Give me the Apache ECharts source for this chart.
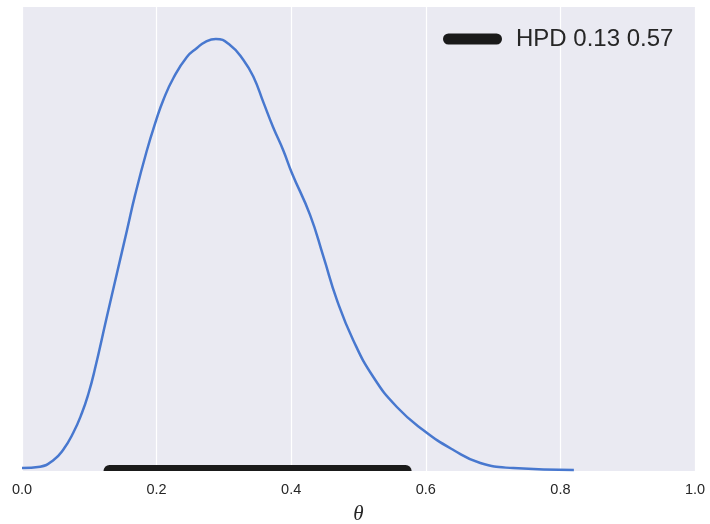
<!DOCTYPE html>
<html>
<head>
<meta charset="utf-8">
<script src="https://cdn.jsdelivr.net/npm/echarts@6/dist/echarts.min.js"></script>
<style>html,body{margin:0;padding:0;background:#fff;}#c{width:710px;height:524px;}</style>
</head>
<body>
<div id="c"></div>
<script>
// Posterior density of theta (KDE)
const thetaX = [0.000, 0.027, 0.047, 0.061, 0.076, 0.089, 0.099, 0.108, 0.126, 0.141, 0.156, 0.168, 0.185, 0.199, 0.210, 0.225, 0.245, 0.260, 0.272, 0.288, 0.309, 0.329, 0.344, 0.359, 0.373, 0.388, 0.401, 0.428, 0.448, 0.468, 0.492, 0.522, 0.557, 0.596, 0.641, 0.681, 0.730, 0.820];
const density = [0.021, 0.031, 0.079, 0.150, 0.271, 0.414, 0.557, 0.721, 1.100, 1.410, 1.720, 1.970, 2.280, 2.500, 2.650, 2.807, 2.957, 3.021, 3.064, 3.086, 3.043, 2.936, 2.814, 2.629, 2.457, 2.293, 2.129, 1.829, 1.529, 1.221, 0.936, 0.671, 0.457, 0.293, 0.150, 0.057, 0.021, 0.007];
// HPD interval
const hpdLow = 0.13;
const hpdHigh = 0.57;
const xTicks = [0.0, 0.2, 0.4, 0.6, 0.8, 1.0];

const hpdName = 'HPD ' + hpdLow.toFixed(2) + ' ' + hpdHigh.toFixed(2);
const curve = thetaX.map((x, i) => [x, density[i]]);

const chart = echarts.init(document.getElementById('c'), null, {renderer: 'canvas'});
chart.setOption({
  animation: false,
  backgroundColor: '#ffffff',
  grid: {left: 22, right: 15, top: 7, bottom: 53, show: true, backgroundColor: '#EAEAF2', borderWidth: 0,
    containLabel: false, outerBoundsMode: 'none'},
  legend: {
    data: [hpdName],
    left: 443, top: 27, padding: 0,
    itemWidth: 59, itemHeight: 11,
    icon: 'path://M5.5,0 H53.5 A5.5,5.5 0 0 1 53.5,11 H5.5 A5.5,5.5 0 0 1 5.5,0 Z',
    textStyle: {fontFamily: 'Liberation Sans', fontSize: 24, color: '#262626', padding: [0, 0, 0, 9]},
    selectedMode: false
  },
  xAxis: {
    type: 'value', min: 0, max: 1, interval: 0.2,
    name: 'θ', nameLocation: 'middle', nameGap: 33,
    nameTextStyle: {fontFamily: 'Liberation Serif', fontStyle: 'italic', fontSize: 21, color: '#262626'},
    axisLine: {show: false}, axisTick: {show: false},
    axisLabel: {fontFamily: 'Liberation Sans', fontSize: 14.5, color: '#262626', margin: 11,
      formatter: v => xTicks.find(t => Math.abs(t - v) < 1e-9).toFixed(1)},
    splitLine: {show: true, lineStyle: {color: '#ffffff', width: 1.2}}
  },
  yAxis: {
    type: 'value', min: 0, max: 3.314,
    axisLine: {show: false}, axisTick: {show: false}, axisLabel: {show: false},
    splitLine: {show: false}
  },
  series: [
    {
      name: 'posterior', type: 'line', data: curve, smooth: 0.5, showSymbol: false,
      lineStyle: {color: '#4878CF', width: 2.5}, clip: true, z: 3
    },
    {
      name: hpdName, type: 'custom', data: [[hpdLow, hpdHigh, 0]],
      itemStyle: {color: '#1a1a1a'}, z: 4,
      renderItem: function (params, api) {
        const p1 = api.coord([api.value(0), api.value(2)]);
        const p2 = api.coord([api.value(1), api.value(2)]);
        const hw = 6;
        const rect = echarts.graphic.clipRectByRect(
          {x: p1[0] - hw, y: p1[1] - hw, width: p2[0] - p1[0] + 2 * hw, height: 2 * hw},
          {x: params.coordSys.x, y: params.coordSys.y, width: params.coordSys.width, height: params.coordSys.height}
        );
        return {
          type: 'rect',
          shape: {x: rect.x, y: rect.y, width: rect.width, height: rect.height, r: [hw, hw, 0, 0]},
          style: {fill: '#1a1a1a'}
        };
      }
    }
  ]
});
</script>
</body>
</html>
